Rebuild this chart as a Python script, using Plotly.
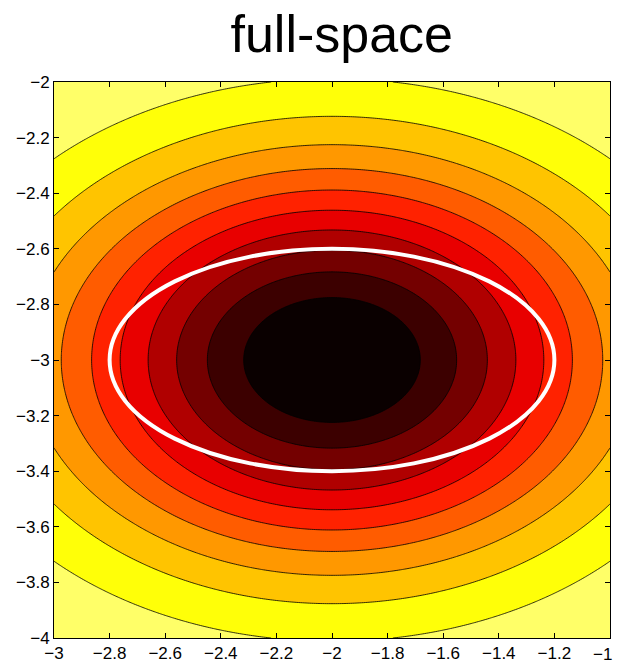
import numpy as np
import plotly.graph_objects as go

# Axis ranges and ticks
x_range = [-3.0, -1.0]
y_range = [-4.0, -2.0]
x_ticks = [-3.0, -2.8, -2.6, -2.4, -2.2, -2.0, -1.8, -1.6, -1.4, -1.2, -1.0]
x_labels = ["\u22123", "\u22122.8", "\u22122.6", "\u22122.4", "\u22122.2", "\u22122",
            "\u22121.8", "\u22121.6", "\u22121.4", "\u22121.2", "\u22121"]
y_ticks = [-4.0, -3.8, -3.6, -3.4, -3.2, -3.0, -2.8, -2.6, -2.4, -2.2, -2.0]
y_labels = ["\u22124", "\u22123.8", "\u22123.6", "\u22123.4", "\u22123.2", "\u22123",
            "\u22122.8", "\u22122.6", "\u22122.4", "\u22122.2", "\u22122"]

center = [-2.0, -3.0]
coef_x = 1.0
coef_y = 2.0

# Contour levels (outermost to innermost)
levels = [0.129, 0.215, 0.301, 0.387, 0.474, 0.560, 0.646, 0.732, 0.818, 0.904]

# Band colours from low value (outer) to high value (centre) - "hot" colormap
band_colors = ["#ffff68", "#ffff08", "#ffc400", "#ff9800", "#ff5c00",
               "#ff2200", "#e80000", "#b00000", "#740000", "#3c0000", "#0a0000"]

# White ellipse: centre and semi-axes
ell_center = [-2.0, -3.0]
ell_axes = [0.8, 0.4]

title_text = "full-space"

xs = np.linspace(x_range[0], x_range[1], 301)
ys = np.linspace(y_range[0], y_range[1], 301)
X, Y = np.meshgrid(xs, ys)
Z = np.exp(-coef_x * (X - center[0]) ** 2 - coef_y * (Y - center[1]) ** 2)

size = (levels[-1] - levels[0]) / (len(levels) - 1)
n = len(band_colors) - 1
colorscale = [[i / n, c] for i, c in enumerate(band_colors)]

tick_font = dict(family="Liberation Sans, Arial", size=17, color="black")

fig = go.Figure()
fig.add_trace(go.Contour(
    x=xs, y=ys, z=Z,
    contours=dict(start=levels[0], end=levels[-1] + size * 0.01, size=size, coloring="fill"),
    colorscale=colorscale,
    line=dict(color="black", width=0.8),
    showscale=False,
    hoverinfo="skip",
))

fig.add_shape(type="circle", xref="x", yref="y",
              x0=ell_center[0] - ell_axes[0], x1=ell_center[0] + ell_axes[0],
              y0=ell_center[1] - ell_axes[1], y1=ell_center[1] + ell_axes[1],
              line=dict(color="white", width=4))

# last x tick label placed as annotation so it stays inside the page edge
shown_x_labels = x_labels[:-1] + [""]
fig.add_annotation(x=x_ticks[-1], y=0, xref="x", yref="paper", text=x_labels[-1],
                   showarrow=False, xanchor="right", yanchor="top", xshift=4, yshift=-5,
                   font=tick_font)

axis_common = dict(
    showgrid=False, zeroline=False, showline=True, linecolor="black", linewidth=1,
    ticks="inside", ticklen=5, tickcolor="black", tickwidth=1, mirror="ticks",
    tickmode="array", automargin=False, tickfont=tick_font,
)

fig.update_layout(
    width=618, height=664,
    margin=dict(l=54, r=8, t=82, b=26),
    paper_bgcolor="white", plot_bgcolor="white",
    title=dict(text=title_text, x=0.553, xanchor="center", y=0.977, yanchor="top", yref="container",
               font=dict(family="Liberation Sans, Arial", size=52, color="black")),
    xaxis=dict(range=x_range, tickvals=x_ticks, ticktext=shown_x_labels, **axis_common),
    yaxis=dict(range=y_range, tickvals=y_ticks, ticktext=y_labels, **axis_common),
)

fig.write_html("out.html")
